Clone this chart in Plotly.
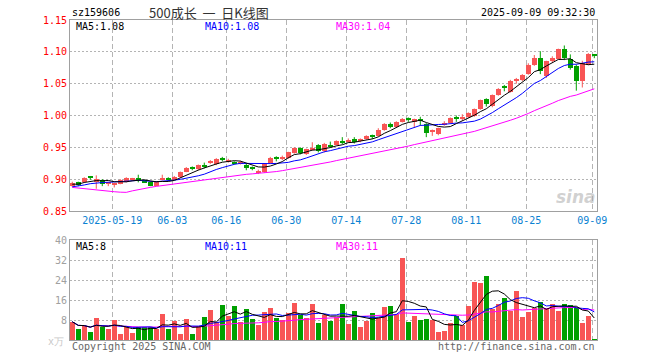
import plotly.graph_objects as go
import pandas as pd

# ---------------- data ----------------
dates = [d.strftime('%Y-%m-%d') for d in pd.bdate_range('2025-05-08', '2025-09-09')
         if d.strftime('%Y-%m-%d') not in ('2025-06-02',)]

open_ = [0.890, 0.895, 0.895, 0.903, 0.896, 0.899, 0.893, 0.891, 0.893, 0.896,
         0.899, 0.900, 0.898, 0.895, 0.890, 0.899, 0.900, 0.900, 0.903, 0.912,
         0.918, 0.916, 0.921, 0.925, 0.924, 0.933, 0.928, 0.926, 0.925, 0.922,
         0.918, 0.911, 0.911, 0.925, 0.934, 0.932, 0.933, 0.941, 0.949, 0.940,
         0.947, 0.953, 0.944, 0.953, 0.954, 0.959, 0.959, 0.963, 0.960, 0.963,
         0.968, 0.968, 0.977, 0.987, 0.982, 0.990, 0.994, 0.990, 0.993, 0.986,
         0.975, 0.971, 0.986, 0.989, 0.997, 0.996, 0.997, 0.999, 1.010, 1.026,
         1.015, 1.032, 1.045, 1.037, 1.055, 1.055, 1.065, 1.079, 1.090, 1.062,
         1.085, 1.089, 1.104, 1.089, 1.078, 1.054, 1.080, 1.096]
high = [0.896, 0.896, 0.903, 0.905, 0.906, 0.900, 0.896, 0.894, 0.900, 0.903,
        0.902, 0.907, 0.899, 0.896, 0.897, 0.907, 0.903, 0.905, 0.912, 0.919,
        0.920, 0.923, 0.926, 0.930, 0.933, 0.935, 0.932, 0.928, 0.929, 0.924,
        0.920, 0.915, 0.925, 0.935, 0.936, 0.937, 0.943, 0.950, 0.950, 0.948,
        0.958, 0.955, 0.957, 0.959, 0.961, 0.966, 0.964, 0.966, 0.964, 0.969,
        0.970, 0.980, 0.988, 0.989, 0.991, 0.996, 0.997, 0.995, 0.998, 0.988,
        0.978, 0.981, 0.991, 0.997, 1.000, 1.002, 1.005, 1.011, 1.025, 1.027,
        1.033, 1.043, 1.048, 1.056, 1.059, 1.065, 1.082, 1.095, 1.101, 1.086,
        1.093, 1.105, 1.110, 1.096, 1.080, 1.086, 1.098, 1.096]
low = [0.888, 0.889, 0.894, 0.899, 0.885, 0.889, 0.889, 0.887, 0.892, 0.895,
       0.897, 0.895, 0.894, 0.889, 0.889, 0.898, 0.897, 0.899, 0.902, 0.911,
       0.914, 0.914, 0.917, 0.924, 0.922, 0.928, 0.926, 0.923, 0.923, 0.914,
       0.914, 0.908, 0.910, 0.924, 0.928, 0.930, 0.932, 0.940, 0.939, 0.938,
       0.945, 0.942, 0.942, 0.950, 0.953, 0.955, 0.957, 0.956, 0.958, 0.962,
       0.963, 0.967, 0.976, 0.980, 0.981, 0.989, 0.990, 0.981, 0.984, 0.966,
       0.968, 0.969, 0.984, 0.988, 0.990, 0.992, 0.996, 0.998, 1.009, 1.014,
       1.013, 1.031, 1.038, 1.036, 1.050, 1.054, 1.064, 1.078, 1.065, 1.059,
       1.083, 1.088, 1.087, 1.072, 1.039, 1.044, 1.079, 1.090]
close = [0.894, 0.891, 0.902, 0.902, 0.900, 0.892, 0.894, 0.892, 0.899, 0.902,
         0.900, 0.899, 0.895, 0.890, 0.896, 0.902, 0.899, 0.903, 0.911, 0.918,
         0.917, 0.922, 0.920, 0.929, 0.931, 0.931, 0.929, 0.925, 0.926, 0.917,
         0.916, 0.912, 0.924, 0.934, 0.933, 0.935, 0.942, 0.949, 0.941, 0.947,
         0.949, 0.945, 0.955, 0.952, 0.960, 0.958, 0.962, 0.958, 0.961, 0.968,
         0.967, 0.978, 0.986, 0.982, 0.990, 0.994, 0.993, 0.994, 0.992, 0.972,
         0.976, 0.980, 0.989, 0.996, 0.995, 0.997, 1.004, 1.010, 1.024, 1.018,
         1.032, 1.041, 1.044, 1.054, 1.056, 1.064, 1.080, 1.090, 1.070, 1.085,
         1.091, 1.104, 1.091, 1.075, 1.054, 1.083, 1.096, 1.095]
volume = [7.3, 4.4, 5.6, 3.3, 8.9, 5.3, 4.4, 8.0, 2.4, 5.1,
          2.9, 5.1, 5.1, 5.3, 4.5, 10.4, 4.4, 7.6, 2.4, 8.4,
          2.4, 5.1, 9.2, 12.0, 7.3, 14.0, 9.7, 13.6, 7.2, 12.4,
          8.4, 6.0, 11.2, 12.8, 8.8, 8.0, 10.7, 14.8, 10.0, 8.8,
          14.4, 6.8, 10.0, 7.6, 9.1, 14.4, 6.4, 11.6, 5.3, 7.7,
          10.8, 8.7, 13.2, 13.6, 10.3, 32.8, 7.2, 9.6, 8.0, 8.5,
          8.0, 3.2, 3.6, 6.7, 9.6, 6.0, 13.6, 23.2, 22.8, 25.6,
          12.4, 14.4, 16.8, 11.6, 19.7, 9.2, 11.2, 12.9, 15.2, 12.8,
          14.4, 11.6, 14.4, 14.0, 13.2, 6.8, 9.6, 0.4]
# closes before the visible window (estimated from where the MA lines start)
prior_close = [0.925, 0.926, 0.924, 0.925, 0.927, 0.924, 0.925, 0.920, 0.910,
               0.830, 0.835, 0.840, 0.845, 0.850,
               0.862, 0.868, 0.872, 0.870, 0.875, 0.878, 0.880, 0.884, 0.882,
               0.886, 0.888, 0.890, 0.889, 0.892, 0.895]

tick_dates = ['2025-05-19', '2025-06-03', '2025-06-16', '2025-06-30', '2025-07-14',
              '2025-07-28', '2025-08-11', '2025-08-25', '2025-09-09']
tick_labels = ['2025-05-19', '06-03', '06-16', '06-30', '07-14',
               '07-28', '08-11', '08-25', '09-09']
price_ticks = [0.85, 0.90, 0.95, 1.00, 1.05, 1.10, 1.15]
vol_ticks = [8, 16, 24, 32, 40]

# ---------------- derived ----------------
n = len(close)
idx = list(range(n))
all_close = pd.Series(prior_close + close)
ma = {k: all_close.rolling(k).mean().tolist()[-n:] for k in (5, 10, 30)}
vs = pd.Series(volume)
vma = {k: vs.rolling(k, min_periods=1).mean().tolist() for k in (5, 10, 30)}

RED = '#f85555'
GREEN = '#00a000'
up = [c >= o for o, c in zip(open_, close)]
colors = [RED if u else GREEN for u in up]
body_base = [min(o, c) for o, c in zip(open_, close)]
body_h = [max(abs(c - o), 0.0016) for o, c in zip(open_, close)]

fig = go.Figure()

for col, flag in ((RED, True), (GREEN, False)):
    wx, wy = [], []
    for i in idx:
        if up[i] == flag:
            wx += [i, i, None]
            wy += [low[i], high[i], None]
    fig.add_trace(go.Scatter(x=wx, y=wy, mode='lines', line=dict(color=col, width=1),
                             hoverinfo='skip', xaxis='x', yaxis='y'))

fig.add_trace(go.Bar(x=idx, y=body_h, base=body_base, width=0.75,
                     marker=dict(color=colors, line=dict(width=0)), xaxis='x', yaxis='y'))

ma_colors = {5: '#000000', 10: '#0000ff', 30: '#ff00ff'}
for k in (30, 10, 5):
    fig.add_trace(go.Scatter(x=idx, y=ma[k], mode='lines',
                             line=dict(color=ma_colors[k], width=1), xaxis='x', yaxis='y'))

fig.add_trace(go.Bar(x=idx, y=volume, width=0.83,
                     marker=dict(color=colors, line=dict(width=0)), xaxis='x2', yaxis='y2'))
for k in (30, 10, 5):
    fig.add_trace(go.Scatter(x=idx, y=vma[k], mode='lines',
                             line=dict(color=ma_colors[k], width=1), xaxis='x2', yaxis='y2'))

# ---------------- layout ----------------
L, R, T, B = 70, 63, 20, 20
W, H = 660, 360
PW, PH = W - L - R, H - T - B


def px(x):
    return (x - L) / PW


def py(y):
    return (H - B - y) / PH


MONO = 'DejaVu Sans Mono'
tick_pos = [dates.index(d) - 1 / 3 for d in tick_dates]
xr = [-0.38, n - 1 + 0.45]
gridc = '#b4b4b4'
linec = '#a0a0a0'

fig.update_layout(
    width=W, height=H, margin=dict(l=L, r=R, t=T, b=B),
    paper_bgcolor='white', plot_bgcolor='white', showlegend=False,
    barmode='overlay', bargap=0,
    xaxis=dict(domain=[0, 1], range=xr, anchor='y', tickvals=tick_pos, ticktext=tick_labels,
               tickfont=dict(family=MONO, size=10, color='#0a82d2'), ticks='',
               showgrid=True, gridcolor=gridc, griddash='5px,3px', gridwidth=1,
               showline=True, mirror=True, linecolor=linec, linewidth=1, zeroline=False),
    yaxis=dict(domain=[(H - B - 211) / PH, 1], range=[0.85, 1.15], anchor='x',
               tickvals=price_ticks, ticktext=['%.2f' % v for v in price_ticks],
               tickfont=dict(family=MONO, size=10, color='#ff0000'), ticks='',
               showgrid=True, gridcolor=gridc, griddash='2px,2px', gridwidth=1,
               showline=True, mirror=True, linecolor=linec, linewidth=1, zeroline=False),
    xaxis2=dict(domain=[0, 1], range=xr, anchor='y2', tickvals=tick_pos, showticklabels=False,
                ticks='', showgrid=True, gridcolor=gridc, griddash='5px,3px', gridwidth=1,
                showline=True, mirror=True, linecolor=linec, linewidth=1, zeroline=False),
    yaxis2=dict(domain=[0, (H - B - 240) / PH], range=[0, 40], anchor='x2',
                tickvals=vol_ticks, ticktext=[str(v) for v in vol_ticks],
                tickfont=dict(family=MONO, size=10, color='#a0a0a0'), ticks='',
                showgrid=True, gridcolor=gridc, griddash='2px,2px', gridwidth=1,
                showline=True, mirror=True, linecolor=linec, linewidth=1, zeroline=False),
)


def ann(x, y, text, color='#000', size=10, family=MONO, xanchor='left', **kw):
    fig.add_annotation(x=px(x), y=py(y), xref='paper', yref='paper', text=text,
                       showarrow=False, xanchor=xanchor, yanchor='middle',
                       font=dict(family=family, size=size, color=color), **kw)


ann(70, 12, 'sz159606')
ann(209, 12, '500成长&nbsp;&nbsp;一&nbsp;&nbsp;日K线图', color='#333', size=13,
    family='Noto Sans CJK SC', xanchor='center')
ann(597, 12, '2025-09-09 09:32:30', xanchor='right')

ann(74, 26, 'MA5:%.2f' % ma[5][-1], color='#000')
ann(203, 26, 'MA10:%.2f' % ma[10][-1], color='#0000ff')
ann(334, 26, 'MA30:%.2f' % ma[30][-1], color='#ff00ff')

ann(74, 246, 'MA5:%d' % int(vma[5][-1]), color='#000')
ann(203, 246, 'MA10:%d' % int(vma[10][-1]), color='#0000ff')
ann(334, 246, 'MA30:%d' % int(vma[30][-1]), color='#ff00ff')

ann(66, 341, 'x万', color='#c8c8c8', xanchor='right')
ann(70, 346, 'Copyright 2025 SINA.COM', color='#666')
ann(597, 346, 'http://finance.sina.com.cn', color='#666', xanchor='right')

fig.add_annotation(x=px(598), y=py(197), xref='paper', yref='paper', text='<b>sina</b>',
                   showarrow=False, xanchor='right', yanchor='middle',
                   font=dict(family='DejaVu Sans', size=17, color='rgba(170,170,170,0.55)',
                             style='italic'))

fig.write_html('out.html', config={'displayModeBar': False},
               post_script="document.body.style.margin='0';")
